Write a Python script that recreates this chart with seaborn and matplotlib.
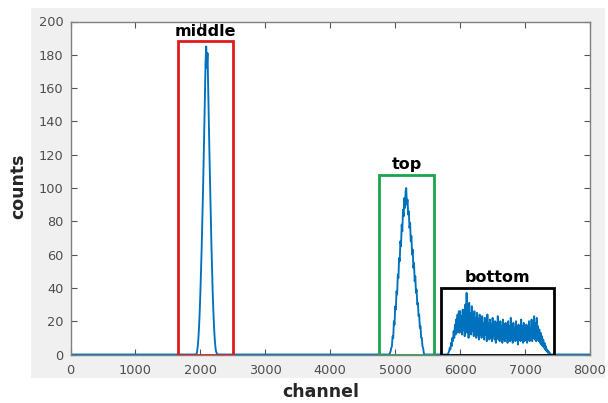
import numpy as np
import pandas as pd
import matplotlib
matplotlib.use("Agg")
import matplotlib.pyplot as plt
import matplotlib.patches as mpatches
import seaborn as sns

# ---- data ----
step = 10
middle_start = 1940
middle_counts = [0, 2, 5, 10, 17, 26, 37, 50, 64, 80, 97, 115, 135, 157, 176, 185,
                 172, 181, 160, 140, 120, 101, 83, 66, 51, 37, 26, 17, 10, 5, 2, 1, 0]
top_start = 4900
top_counts = [0, 0, 1, 2, 4, 5, 11, 10, 20, 18, 29, 27, 38, 36, 48, 46, 58, 56, 68, 65,
              78, 74, 87, 83, 94, 88, 98, 100, 90, 93, 84, 86, 76, 79, 68, 71, 60, 63,
              52, 55, 44, 47, 37, 39, 30, 31, 23, 24, 16, 17, 10, 10, 5, 4, 1, 0]
bottom_start = 5810
bottom_counts = [0, 1, 2, 4, 3, 7, 5, 10, 8, 14, 10, 18, 12, 21, 13, 24, 14, 26, 13,
                 26, 14, 23, 12, 27, 15, 24, 11, 30, 14, 37, 13, 28, 10, 31, 15, 25, 12,
                 29, 14, 24, 11, 26, 13, 22, 10, 25, 12, 21, 9, 24, 12, 20, 10, 23, 11,
                 19, 9, 22, 12, 20, 8, 24, 11, 19, 9, 21, 10, 18, 8, 22, 11, 18, 9, 20,
                 7, 19, 10, 23, 9, 18, 8, 20, 10, 17, 7, 21, 9, 18, 8, 19, 10, 16, 7, 20,
                 9, 17, 8, 22, 9, 17, 7, 19, 10, 16, 8, 20, 9, 17, 6, 18, 9, 16, 8, 21, 9,
                 17, 7, 19, 8, 16, 9, 18, 7, 17, 9, 20, 8, 16, 9, 21, 8, 18, 10, 23, 9, 19,
                 8, 22, 9, 17, 8, 15, 7, 13, 6, 11, 5, 9, 4, 7, 3, 5, 2, 3, 1, 2, 1, 1, 0, 0]

boxes = [  # label, x0, x1, height, colour
    ("middle", 1650, 2500, 188, "#e01b1b"),
    ("top", 4750, 5600, 108, "#1aa64a"),
    ("bottom", 5700, 7450, 40, "#000000"),
]
x_ticks = [0, 1000, 2000, 3000, 4000, 5000, 6000, 7000, 8000]
y_ticks = [0, 20, 40, 60, 80, 100, 120, 140, 160, 180, 200]

# ---- assemble spectrum ----
def seg(start, vals):
    return pd.DataFrame({"channel": start + step * np.arange(len(vals)), "counts": vals})

df = pd.concat([
    pd.DataFrame({"channel": [0], "counts": [0]}),
    seg(middle_start, middle_counts),
    seg(top_start, top_counts),
    seg(bottom_start, bottom_counts),
    pd.DataFrame({"channel": [8000], "counts": [0]}),
], ignore_index=True)

sns.set_theme(style="white")
plt.rcParams["font.family"] = ["DejaVu Sans"]

fig = plt.figure(figsize=(6.08, 4.03), dpi=100)
fig.patch.set_facecolor("white")
# MATLAB-like grey figure panel
fig.add_artist(mpatches.Rectangle((31 / 608, 1 - 378 / 403), 1 - 31 / 608 - 3 / 608,
                                  (378 - 8) / 403, transform=fig.transFigure,
                                  facecolor="#f0f0f0", edgecolor="none", zorder=0))

ax = fig.add_axes([70.5 / 608, 1 - 354.5 / 403, (590 - 70.5) / 608, (354.5 - 21.5) / 403])
ax.set_facecolor("white")
sns.lineplot(data=df, x="channel", y="counts", ax=ax, color="#0072BD", linewidth=1.35,
             estimator=None, sort=False)

for label, x0, x1, h, col in boxes:
    ax.add_patch(mpatches.Rectangle((x0, 0), x1 - x0, h, fill=False, edgecolor=col,
                                    linewidth=2.0, zorder=3))
    ax.text((x0 + x1) / 2, h + 3.5, label, ha="center", va="baseline", fontsize=11.5,
            fontweight="bold", color="black")

ax.set_xlim(0, 8000)
ax.set_ylim(0, 200)
ax.set_xticks(x_ticks)
ax.set_yticks(y_ticks)
ax.set_xticklabels([str(t) for t in x_ticks])
ax.set_yticklabels([str(t) for t in y_ticks])
ax.tick_params(axis="both", direction="in", length=4, width=0.8, color="#555555",
               labelcolor="#4d4d4d", labelsize=9.3, top=True, right=True,
               bottom=True, left=True)
ax.tick_params(axis="x", pad=7)
ax.tick_params(axis="y", pad=5)
for s in ax.spines.values():
    s.set_visible(True)
    s.set_color("#808080")
    s.set_linewidth(1.0)

ax.set_xlabel("")
ax.set_ylabel("")
fig.text(321 / 608, 1 - 392 / 403, "channel", ha="center", va="center",
         fontsize=12.5, fontweight="bold")
fig.text(18 / 608, 1 - 186 / 403, "counts", ha="center", va="center", rotation=90,
         fontsize=12.5, fontweight="bold")

fig.savefig("out.png", dpi=100, facecolor="white")
